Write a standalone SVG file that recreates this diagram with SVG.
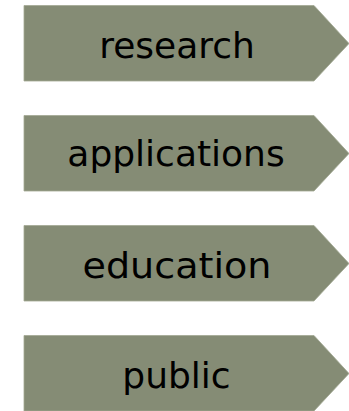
<svg xmlns="http://www.w3.org/2000/svg" width="349" height="411" viewBox="0 0 349 411">
<style>
.shape{fill:#858c75;stroke:#a2a893;stroke-width:0.8}
.lbl{font-family:"DejaVu Sans",sans-serif;font-size:36px;fill:#000;text-anchor:middle}
</style>
<rect width="349" height="411" fill="#fff"/>
<g id="research">
<polygon class="shape" points="24,5.5 314,5.5 349,43.5 314,81 24,81"/>
<text class="lbl" x="177" y="58">research</text>
</g>
<g id="applications">
<polygon class="shape" points="24,115.5 314,115.5 349,153.5 314,191 24,191"/>
<text class="lbl" x="176" y="166">applications</text>
</g>
<g id="education">
<polygon class="shape" points="24,225.5 314,225.5 349,263.5 314,301 24,301"/>
<text class="lbl" x="177" y="277.5" textLength="189" lengthAdjust="spacingAndGlyphs">education</text>
</g>
<g id="public">
<polygon class="shape" points="24,335.5 314,335.5 349,373.5 314,411 24,411"/>
<text class="lbl" x="176.5" y="388">public</text>
</g>
<g id="connectors"></g>
</svg>
